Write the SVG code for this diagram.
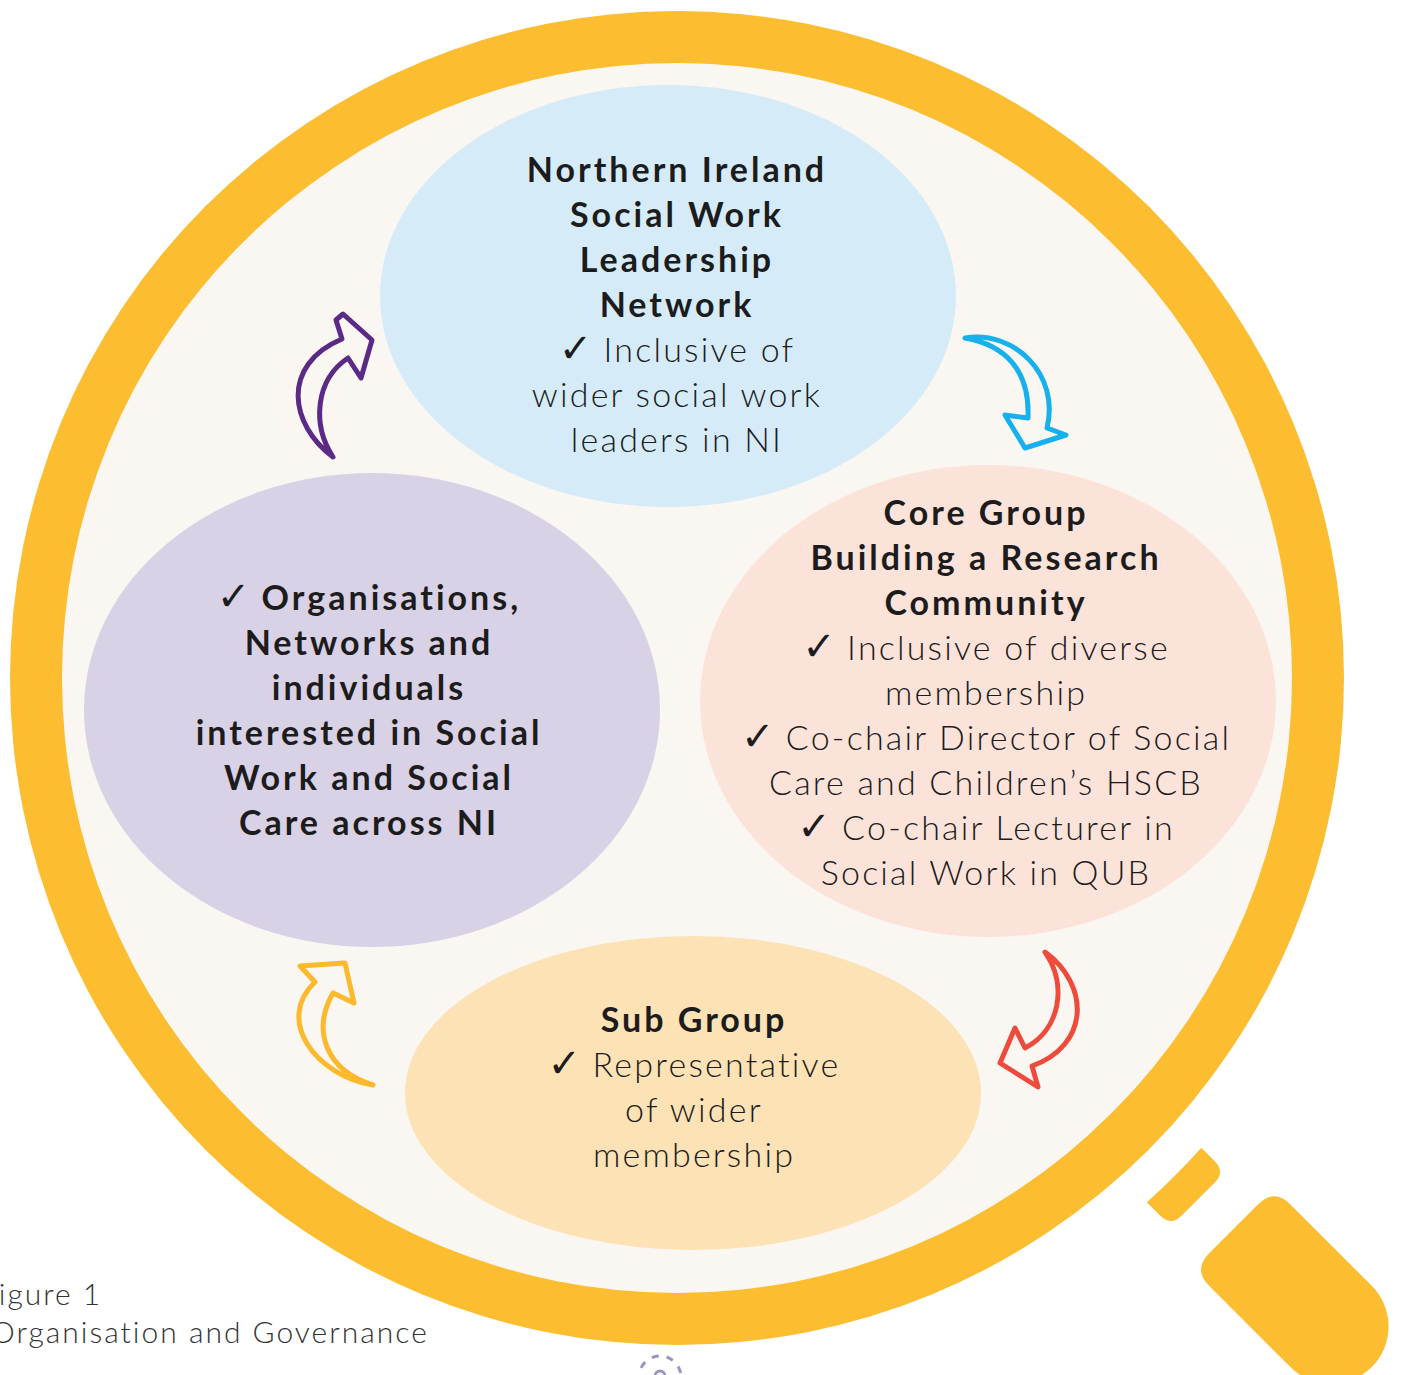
<svg xmlns="http://www.w3.org/2000/svg" width="1402" height="1375" viewBox="0 0 1402 1375">
<style>
  .t { font-family: Lato, "Noto Sans", "DejaVu Sans", sans-serif; font-size: 34px; fill: #1c1c1c; text-anchor: middle; font-weight: 300; letter-spacing: 2.2px; }
  .b { font-weight: bold; letter-spacing: 3px; }
  .ck { font-family: "DejaVu Sans", sans-serif; font-weight: bold; font-size: 40px; letter-spacing: 0; }
  .cap { font-family: Lato, "Noto Sans", sans-serif; font-size: 30px; fill: #333333; font-weight: 300; letter-spacing: 2px; }
  .arrow { fill: #faf6f1; stroke-width: 5; stroke-linejoin: round; stroke-linecap: round; }
</style>
<rect width="1402" height="1375" fill="#ffffff"/>
<g id="magnifier">
  <circle cx="677" cy="678" r="667" fill="#fcbd31"/>
  <circle cx="677" cy="678" r="615" fill="#faf6f1"/>
  <g transform="translate(677,678) rotate(45)">
    <path d="M703,-38.5 L722,-38.5 Q737,-38.5 737,-23.5 L737,23.5 Q737,38.5 722,38.5 L703,38.5 A703 703 0 0 0 703,-38.5 Z" fill="#fcbd31"/>
    <path d="M806,-61.5 L921,-61.5 A57.5 57.5 0 0 1 921,53.5 L806,53.5 Q783,53.5 783,30.5 L783,-38.5 Q783,-61.5 806,-61.5 Z" fill="#fcbd31"/>
  </g>
</g>
<g id="node-leadership">
  <ellipse cx="668" cy="296" rx="288" ry="211" fill="#d5ecf8"/>
  <text class="t b" x="677" y="182">Northern Ireland</text>
  <text class="t b" x="677" y="227">Social Work</text>
  <text class="t b" x="677" y="272">Leadership</text>
  <text class="t b" x="677" y="317">Network</text>
  <text class="t" x="677" y="362"><tspan class="ck">✓</tspan> Inclusive of</text>
  <text class="t" x="677" y="407">wider social work</text>
  <text class="t" x="677" y="452">leaders in NI</text>
</g>
<g id="node-organisations">
  <ellipse cx="372" cy="710" rx="288" ry="237" fill="#d9d1e6"/>
  <text class="t b" x="369" y="610"><tspan class="ck">✓</tspan> Organisations,</text>
  <text class="t b" x="369" y="655">Networks and</text>
  <text class="t b" x="369" y="700">individuals</text>
  <text class="t b" x="369" y="745">interested in Social</text>
  <text class="t b" x="369" y="790">Work and Social</text>
  <text class="t b" x="369" y="835">Care across NI</text>
</g>
<g id="node-core">
  <ellipse cx="988" cy="701" rx="288" ry="236" fill="#fce3d9"/>
  <text class="t b" x="986" y="525">Core Group</text>
  <text class="t b" x="986" y="570">Building a Research</text>
  <text class="t b" x="986" y="615">Community</text>
  <text class="t" x="986" y="660"><tspan class="ck">✓</tspan> Inclusive of diverse</text>
  <text class="t" x="986" y="705">membership</text>
  <text class="t" x="986" y="750"><tspan class="ck">✓</tspan> Co-chair Director of Social</text>
  <text class="t" x="986" y="795">Care and Children’s HSCB</text>
  <text class="t" x="986" y="840"><tspan class="ck">✓</tspan> Co-chair Lecturer in</text>
  <text class="t" x="986" y="885">Social Work in QUB</text>
</g>
<g id="node-sub">
  <ellipse cx="693" cy="1093" rx="288" ry="157" fill="#fde2b5"/>
  <text class="t b" x="694" y="1032">Sub Group</text>
  <text class="t" x="694" y="1077"><tspan class="ck">✓</tspan> Representative</text>
  <text class="t" x="694" y="1122">of wider</text>
  <text class="t" x="694" y="1167">membership</text>
</g>
<g id="connectors">
  <path class="arrow" stroke="#5b2a86" d="M333,457 C290,425 280,365 342,339 L336,320 L343,314 L372,340 L361,378 L348,358 C315,380 312,425 333,457 Z"/>
  <path class="arrow" stroke="#16b1ec" d="M965,338 C1015,330 1060,375 1047,428 L1066,435 L1025,448 L1005,415 L1028,418 C1030,370 1005,345 965,338 Z"/>
  <path class="arrow" stroke="#ef4b3c" d="M1045,952 C1090,985 1090,1045 1032,1066 L1038,1087 L1000,1063 L1015,1028 L1025,1048 C1060,1030 1068,985 1045,952 Z"/>
  <path class="arrow" stroke="#fbb92b" d="M373,1085 C315,1075 275,1020 315,982 L300,966 L345,963 L354,1003 L333,993 C312,1030 325,1070 373,1085 Z"/>
</g>
<g id="caption">
  <text class="cap" x="-20" y="1305">Figure 1</text>
  <text class="cap" x="-9" y="1343">Organisation and Governance</text>
</g>
<g id="page-mark" fill="none" stroke="#9a95c4" stroke-width="3">
  <circle cx="660" cy="1377" r="21" stroke-dasharray="7 8"/>
  <circle cx="660" cy="1376" r="5"/>
</g>
</svg>
